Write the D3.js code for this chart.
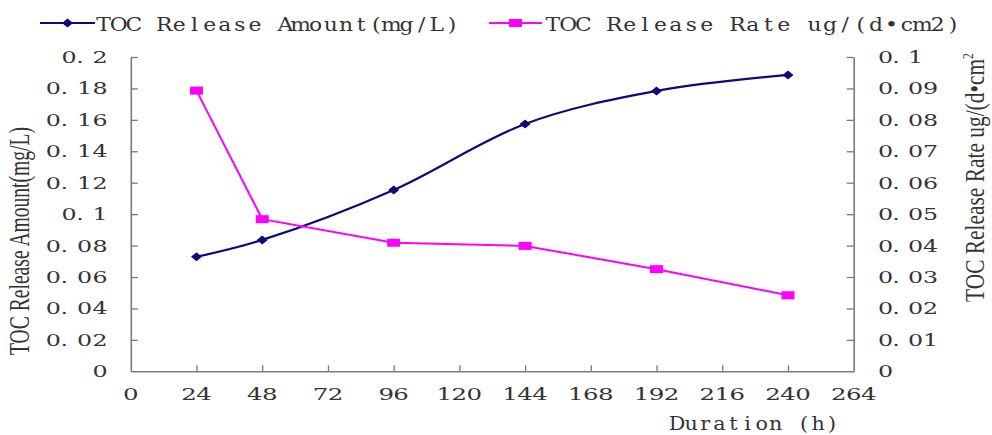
<!DOCTYPE html>
<html><head><meta charset="utf-8">
<script src="https://cdn.jsdelivr.net/npm/d3@7"></script>
<style>
html,body{margin:0;padding:0;background:#fff;}
svg{display:block;}
</style></head>
<body>
<script>
// ---- data ----
const durations = [24, 48, 96, 144, 192, 240];
const amount = [0.0729, 0.0836, 0.1154, 0.1574, 0.1784, 0.1886];
const rate = [0.0893, 0.0484, 0.0409, 0.0399, 0.0325, 0.0242];
const xTicks = [0, 24, 48, 72, 96, 120, 144, 168, 192, 216, 240, 264];
const yLeftTicks = [0, 0.02, 0.04, 0.06, 0.08, 0.1, 0.12, 0.14, 0.16, 0.18, 0.2];
const yRightTicks = [0, 0.01, 0.02, 0.03, 0.04, 0.05, 0.06, 0.07, 0.08, 0.09, 0.1];
const seriesNames = ["TOC Release Amount(mg/L)", "TOC Release Rate ug/(d\u2022cm2)"];
const xTitle = "Duration (h)";
const yLeftTitle = "TOC Release Amount(mg/L)";
const yRightTitle = "TOC Release Rate ug/(d\u2022cm";

const W = 992, H = 435;
const L = 130.8, R = 853.7, T = 57, B = 371.3;
const navy = "#0b0b7a", pink = "#ff00ff", axisCol = "#7a7a7a", txt = "#333";
const mserif = "'DejaVu Serif', 'Liberation Serif', serif";
const serif = "'Liberation Serif', 'DejaVu Serif', serif";

const svg = d3.select("body").append("svg").attr("width", W).attr("height", H);

const x = d3.scaleLinear().domain([0, 264]).range([L, R]);
const yL = d3.scaleLinear().domain([0, 0.2]).range([B, T]);
const yR = d3.scaleLinear().domain([0, 0.1]).range([B, T]);
const fmt = d => String(+d.toFixed(3));

// fixed-cell (monospace-like), horizontally widened text
function monoText(parent, str, left, baseline, cw, fs, sx) {
  const xs = Array.from(str).map((c, i) => {
    let cx = left + (i + 0.5) * cw;
    if (c === ".") cx -= cw * 0.3;
    return (cx / sx).toFixed(2);
  }).join(" ");
  return parent.append("g")
    .attr("transform", `translate(0,${baseline}) scale(${sx},1)`)
    .append("text")
    .attr("x", xs).attr("y", 0)
    .attr("text-anchor", "middle")
    .attr("fill", txt).style("font-family", mserif).style("font-size", fs + "px")
    .text(str);
}

function styleAxis(g) {
  g.select(".domain").attr("stroke", axisCol).attr("stroke-width", 1.6);
  g.selectAll(".tick line").attr("stroke", axisCol).attr("stroke-width", 1.3);
  g.selectAll(".tick text").remove();
}

// axes (lines + ticks)
const gx = svg.append("g").attr("transform", `translate(0,${B})`)
  .call(d3.axisBottom(x).tickValues(xTicks).tickSizeInner(-6).tickSizeOuter(0));
styleAxis(gx);
gx.selectAll(".tick").filter(d => d === 0 || d === 264).select("line").remove();

const gl = svg.append("g").attr("transform", `translate(${L},0)`)
  .call(d3.axisLeft(yL).tickValues(yLeftTicks).tickSizeInner(-7).tickSizeOuter(0));
styleAxis(gl);
gl.selectAll(".tick").filter(d => d === 0).select("line").remove();

const gr = svg.append("g").attr("transform", `translate(${R},0)`)
  .call(d3.axisRight(yR).tickValues(yRightTicks).tickSizeInner(-7).tickSizeOuter(0));
styleAxis(gr);
gr.selectAll(".tick").filter(d => d === 0).select("line").remove();

// tick labels
const labs = svg.append("g");
xTicks.forEach(d => {
  const s = String(d), cw = 15;
  monoText(labs, s, x(d) - s.length * cw / 2, 399.5, cw, 17.5, 1.4);
});
yLeftTicks.forEach(d => {
  const s = fmt(d), cw = 15.6;
  monoText(labs, s, 108 - s.length * cw, yL(d) + 6, cw, 17, 1.4);
});
yRightTicks.forEach(d => {
  const s = fmt(d), cw = 15;
  monoText(labs, s, 878, yR(d) + 6, cw, 17, 1.4);
});

// lines
const amtData = durations.map((d, i) => [d, amount[i]]);
const rateData = durations.map((d, i) => [d, rate[i]]);

svg.append("path").datum(amtData)
  .attr("fill", "none").attr("stroke", navy).attr("stroke-width", 2.2)
  .attr("d", d3.line().x(d => x(d[0])).y(d => yL(d[1])).curve(d3.curveCatmullRom.alpha(0.5)));

svg.append("path").datum(rateData)
  .attr("fill", "none").attr("stroke", pink).attr("stroke-width", 2)
  .attr("d", d3.line().x(d => x(d[0])).y(d => yR(d[1])));

const diamond = (cx, cy) => `M${cx - 5.5},${cy}L${cx},${cy - 4.5}L${cx + 5.5},${cy}L${cx},${cy + 4.5}Z`;

svg.append("g").selectAll("path").data(amtData).join("path")
  .attr("d", d => diamond(x(d[0]), yL(d[1]))).attr("fill", navy);

svg.append("g").selectAll("rect").data(rateData).join("rect")
  .attr("x", d => x(d[0]) - 6.5).attr("y", d => yR(d[1]) - 4)
  .attr("width", 13).attr("height", 8).attr("fill", pink);

// legend
const lg = svg.append("g");
lg.append("line").attr("x1", 40).attr("x2", 95).attr("y1", 23).attr("y2", 23).attr("stroke", navy).attr("stroke-width", 2);
lg.append("path").attr("d", diamond(67.5, 23)).attr("fill", navy);
monoText(lg, seriesNames[0], 96, 30.5, 15.15, 19, 1.15);

lg.append("line").attr("x1", 489).attr("x2", 542).attr("y1", 23).attr("y2", 23).attr("stroke", pink).attr("stroke-width", 2);
lg.append("rect").attr("x", 509).attr("y", 19).attr("width", 13).attr("height", 8).attr("fill", pink);
monoText(lg, seriesNames[1], 545, 30.5, 15.4, 19, 1.15);

// axis titles
monoText(svg, xTitle, 670, 430, 14.1, 18, 1.15);

// vertical titles: condensed along the reading direction via scale
function vTitle(cx, cy, anchor, target, build) {
  const g = svg.append("g");
  const t = g.append("text").attr("text-anchor", anchor)
    .attr("fill", txt).style("font-family", serif);
  build(t);
  const len = t.node().getComputedTextLength();
  const k = target / len;
  g.attr("transform", `translate(${cx},${cy}) rotate(-90) scale(${k},1)`);
}

vTitle(29, 241, "middle", 228, t => t.style("font-size", "30px").text(yLeftTitle));

vTitle(984, 302, "start", 249, t => {
  t.style("font-size", "28px");
  t.append("tspan").text(yRightTitle);
  t.append("tspan").attr("dy", -11).style("font-size", "15px").text("2");
});
</script>
</body></html>
